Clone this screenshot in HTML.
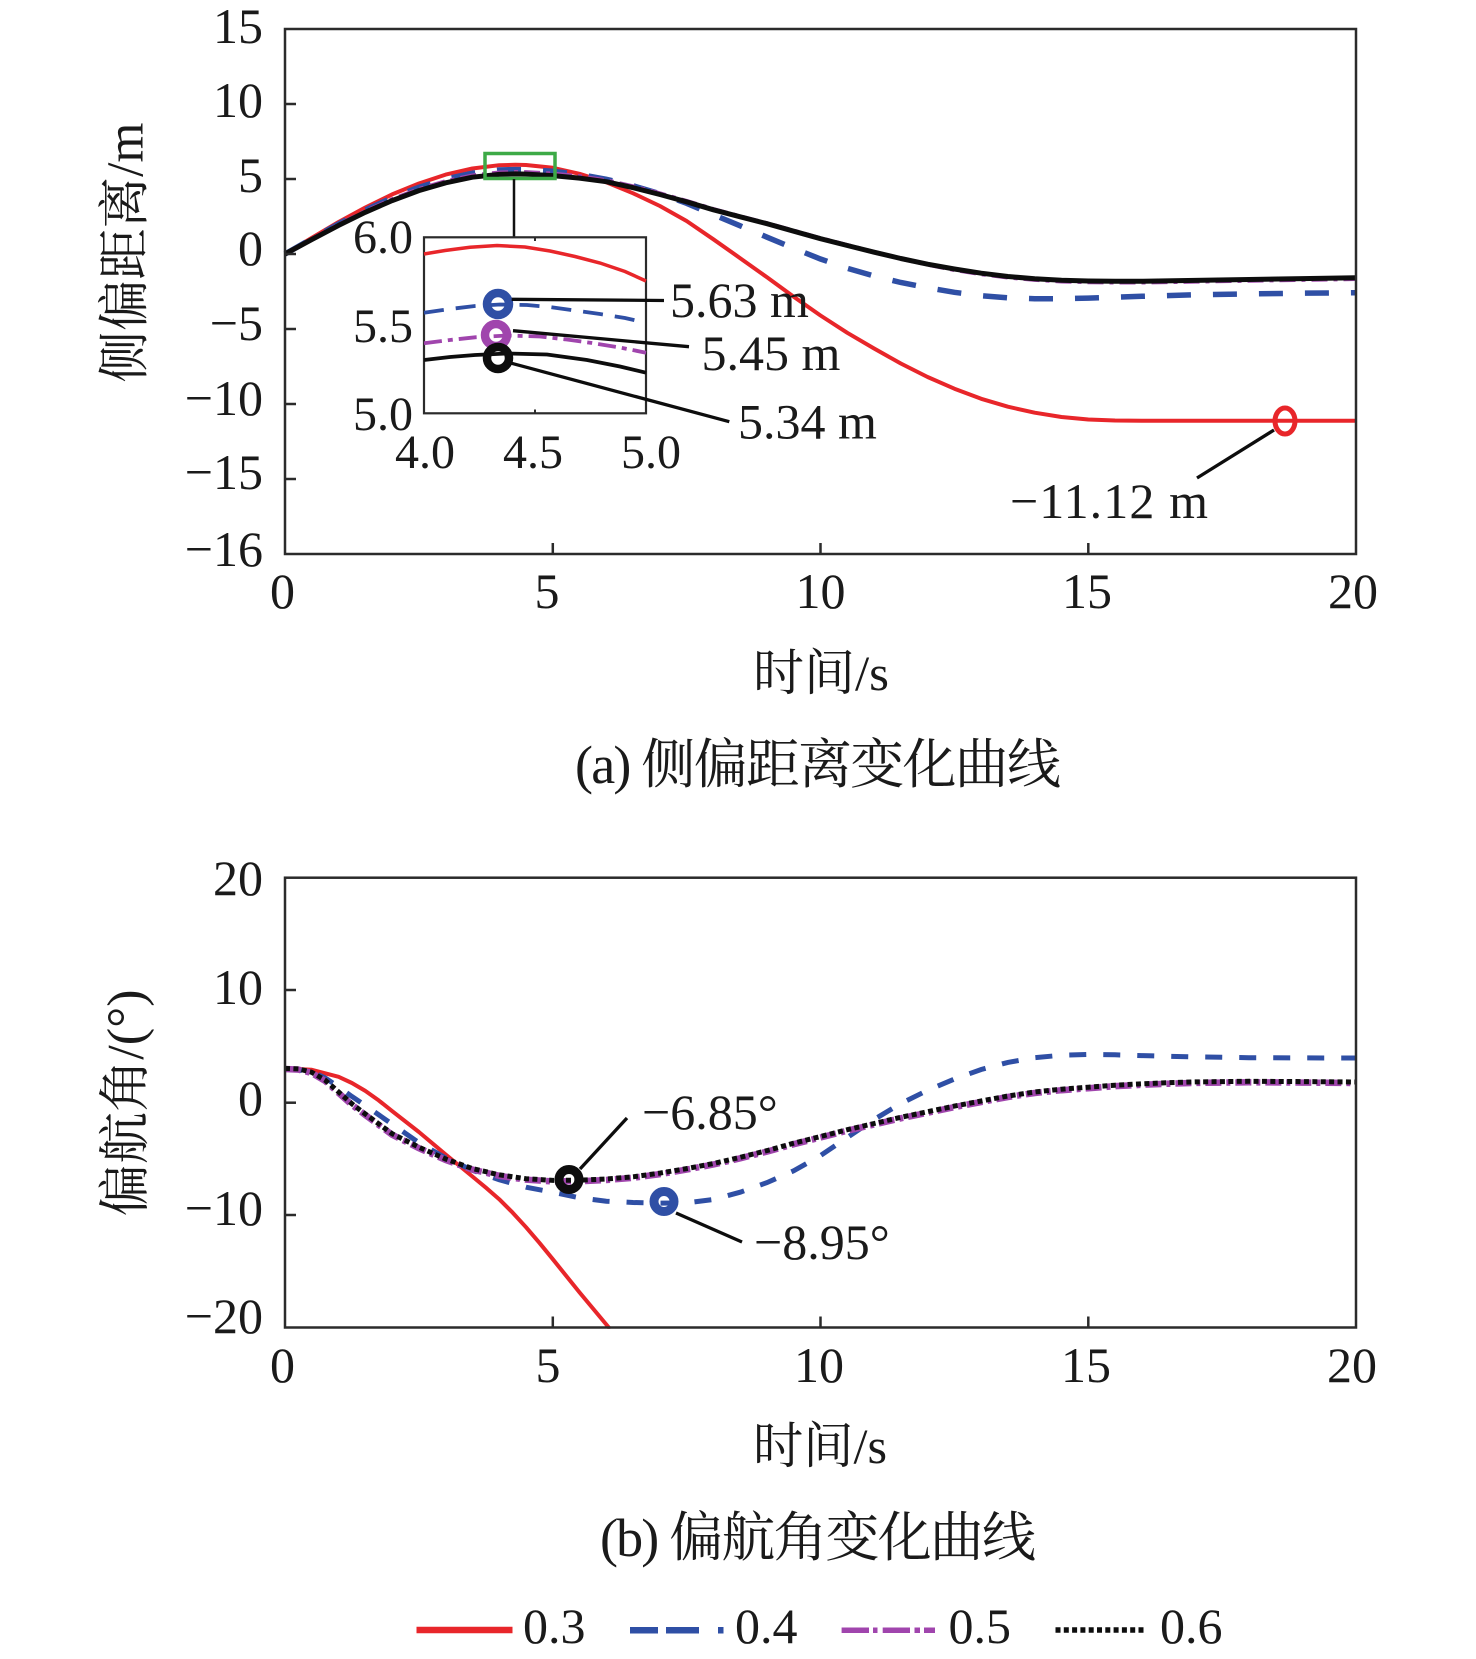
<!DOCTYPE html>
<html>
<head>
<meta charset="utf-8">
<style>
html,body{margin:0;padding:0;background:#fff;}
svg{display:block;}
text{font-family:"Liberation Serif","Noto Serif CJK SC",serif;fill:#1a1a1a;}
</style>
</head>
<body>
<svg width="1476" height="1659" viewBox="0 0 1476 1659" xmlns="http://www.w3.org/2000/svg">
<rect x="0" y="0" width="1476" height="1659" fill="#fff"/>

<!-- ================= TOP CHART ================= -->
<polyline fill="none" stroke="#e8262a" stroke-width="4" stroke-linejoin="round" points="285,254 311.8,237.8 338.6,222 365.3,207.5 392.1,194.4 418.9,183.5 445.7,174.6 472.4,168.5 499.2,165.2 515.3,164.8 526,165 552.8,167.8 579.5,173.8 606.3,182.3 633.1,193.3 659.9,206 686.6,221 713.4,239.3 740.2,258.2 767,277.3 793.7,296.8 820.5,315.5 847.3,332.8 874.1,348.5 900.8,363.5 927.6,377 954.4,388.7 981.2,398.8 1007.9,406.7 1034.7,412.7 1061.5,417 1088.3,419.5 1115,420.5 1141.8,420.8 1356,420.8"/>
<polyline fill="none" stroke="#2f4fa5" stroke-width="5.5" stroke-dasharray="24 22" points="285,254 311.8,238.7 338.6,223.9 365.3,210.1 392.1,197.8 418.9,187.3 445.7,179 472.4,173.2 499.2,170 515.3,169.6 526,169.7 552.8,171.2 579.5,174.5 606.3,179.3 633.1,185.8 659.9,193.7 686.6,203.3 713.4,214.7 740.2,225.8 767,237.2 793.7,248.3 820.5,259 847.3,268.3 874.1,276 900.8,282.5 927.6,287.8 954.4,292.3 981.2,295.7 1007.9,297.8 1034.7,298.7 1061.5,298.7 1088.3,298.1 1115,297.2 1141.8,296.3 1195.4,294.8 1248.9,293.9 1302.5,293.2 1356,292.7"/>
<polyline fill="none" stroke="#a045ad" stroke-width="4.5" stroke-dasharray="16 6 4 6" points="285,254 311.8,239.1 338.6,224.8 365.3,211.4 392.1,199.5 418.9,189.3 445.7,181.4 472.4,175.7 499.2,172.7 515.3,172.3 526,172.4 552.8,173.8 579.5,176.5 606.3,180.5 633.1,186.5 659.9,193.6 686.6,201.2 713.4,209.3 740.2,216.5 767,223.4 793.7,230.9 820.5,238.4 847.3,245.3 874.1,252.2 900.8,258.5 927.6,264.4 954.4,269.8 981.2,274 1007.9,277.3 1034.7,279.6 1061.5,281.2 1088.3,282 1115,282.3 1141.8,282.3 1195.4,281.4 1248.9,280.5 1302.5,279.6 1356,278.8"/>
<polyline fill="none" stroke="#0d0d0d" stroke-width="5" stroke-linejoin="round" points="285,254 311.8,239.5 338.6,225.4 365.3,212.3 392.1,200.6 418.9,190.6 445.7,182.8 472.4,177.2 499.2,174.4 515.3,173.9 526,174.1 552.8,175.6 579.5,178.1 606.3,181.7 633.1,187.7 659.9,194.5 686.6,201.8 713.4,209.8 740.2,216.8 767,223.7 793.7,231.2 820.5,238.7 847.3,245.5 874.1,252.2 900.8,258.5 927.6,264.2 954.4,269 981.2,273.2 1007.9,276.5 1034.7,278.8 1061.5,280.3 1088.3,281 1115,281.3 1141.8,281.3 1195.4,280.4 1248.9,279.5 1302.5,278.6 1356,277.7"/>

<rect x="285" y="29" width="1071" height="525" fill="none" stroke="#2b2b2b" stroke-width="2.5"/>
<g stroke="#2b2b2b" stroke-width="2.5">
<line x1="285" y1="104" x2="296" y2="104"/>
<line x1="285" y1="179" x2="296" y2="179"/>
<line x1="285" y1="254" x2="296" y2="254"/>
<line x1="285" y1="329" x2="296" y2="329"/>
<line x1="285" y1="404" x2="296" y2="404"/>
<line x1="285" y1="479" x2="296" y2="479"/>
<line x1="552.8" y1="554" x2="552.8" y2="543"/>
<line x1="820.5" y1="554" x2="820.5" y2="543"/>
<line x1="1088.3" y1="554" x2="1088.3" y2="543"/>
</g>
<g font-size="50" text-anchor="end">
<text x="263" y="43">15</text>
<text x="263" y="117">10</text>
<text x="263" y="192">5</text>
<text x="263" y="265">0</text>
<text x="263" y="340">−5</text>
<text x="263" y="415">−10</text>
<text x="263" y="489">−15</text>
<text x="263" y="566">−16</text>
</g>
<g font-size="50" text-anchor="middle">
<text x="282.5" y="608">0</text>
<text x="547" y="608">5</text>
<text x="820.5" y="608">10</text>
<text x="1087" y="608">15</text>
<text x="1353" y="608">20</text>
</g>
<text transform="translate(126,252.6) rotate(-90)" text-anchor="middle" dominant-baseline="central" font-size="52" textLength="260" lengthAdjust="spacingAndGlyphs">侧偏距离/m</text>
<text x="753" y="690" font-size="50" textLength="136" lengthAdjust="spacingAndGlyphs">时间/s</text>
<text x="575" y="783" font-size="54" textLength="486" lengthAdjust="spacing">(a) 侧偏距离变化曲线</text>

<rect x="485" y="153.5" width="70" height="25" fill="none" stroke="#3daa47" stroke-width="3.5"/>
<line x1="514" y1="179" x2="514" y2="237" stroke="#111" stroke-width="2.5"/>

<rect x="424" y="237.3" width="222" height="176" fill="#fff" stroke="#2b2b2b" stroke-width="2.2"/>
<g stroke="#2b2b2b" stroke-width="2">
<line x1="535" y1="237.3" x2="535" y2="241"/>
<line x1="535" y1="413.3" x2="535" y2="409.5"/>
</g>
<polyline fill="none" stroke="#e8262a" stroke-width="3.5" points="424,254 445,250.5 470,247.3 497,245.5 525,247 550,251 575,256.5 600,263 625,271.5 646,281"/>
<polyline fill="none" stroke="#2f4fa5" stroke-width="3.8" stroke-dasharray="20 12" points="424,312.7 450,309 475,306 500,304.5 527,305 550,307 575,310.5 600,314 625,318 646,322.7"/>
<polyline fill="none" stroke="#a045ad" stroke-width="3.8" stroke-dasharray="18 6 5 6" points="424,343.3 450,340 475,337.3 507,335.5 540,336.5 565,339.3 590,342.7 620,347.5 646,352.7"/>
<polyline fill="none" stroke="#0d0d0d" stroke-width="3.8" points="424,360 450,357 475,355 507,353.5 547,354.5 587,360 620,366.5 646,372.7"/>
<g font-size="48" text-anchor="end">
<text x="413" y="253">6.0</text>
<text x="413" y="342">5.5</text>
<text x="413" y="430">5.0</text>
</g>
<g font-size="48" text-anchor="middle">
<text x="425" y="468">4.0</text>
<text x="533" y="468">4.5</text>
<text x="651" y="468">5.0</text>
</g>
<circle cx="498" cy="304" r="11" fill="none" stroke="#2f4fa5" stroke-width="8.5"/>
<circle cx="496" cy="335" r="11" fill="none" stroke="#a045ad" stroke-width="8.5"/>
<circle cx="498" cy="358" r="11" fill="none" stroke="#0d0d0d" stroke-width="8.5"/>
<g stroke="#0d0d0d" stroke-width="3.3">
<line x1="511.7" y1="299.3" x2="664" y2="300.5"/>
<line x1="513" y1="330.7" x2="689" y2="346.7"/>
<line x1="511.7" y1="363.3" x2="729.3" y2="421.7"/>
<line x1="1274" y1="430" x2="1197" y2="478"/>
</g>
<ellipse cx="1285" cy="421" rx="10" ry="13" fill="none" stroke="#e8262a" stroke-width="5"/>
<g font-size="50">
<text x="670" y="317">5.63 m</text>
<text x="701.5" y="370">5.45 m</text>
<text x="738" y="438.5">5.34 m</text>
<text x="1010" y="518" textLength="198" lengthAdjust="spacing">−11.12 m</text>
</g>

<!-- ================= BOTTOM CHART ================= -->
<polyline fill="none" stroke="#e8262a" stroke-width="4" stroke-linejoin="round" points="285,1068.4 311.8,1069.8 338.6,1076.8 351.9,1083 365.3,1090.9 378.7,1100.4 392.1,1111.1 418.9,1132 445.7,1154.5 472.4,1176.5 485.8,1187.6 499.2,1199.2 512.6,1212.6 526,1227.2 539.4,1242.8 552.8,1259.2 579.5,1292.4 606.3,1324.5 610,1329"/>
<polyline fill="none" stroke="#2f4fa5" stroke-width="5" stroke-dasharray="17 17" points="285,1068.4 311.8,1071.7 325.2,1077.9 338.6,1086.9 351.9,1096.5 365.3,1105.5 392.1,1124.1 418.9,1142.7 445.7,1157.9 472.4,1170.3 499.2,1179.8 526,1187.2 552.8,1192.2 579.5,1197.8 606.3,1201.2 633.1,1202.5 659.9,1203.1 686.6,1202.9 713.4,1199.5 740.2,1192.2 767,1182.6 793.7,1170.8 820.5,1155.6 847.3,1137.5 874.1,1119.5 900.8,1103.5 927.6,1090.3 954.4,1079.1 981.2,1069.5 1007.9,1062.4 1034.7,1057.7 1061.5,1055.2 1088.3,1054.5 1115,1054.8 1141.8,1055.6 1195.4,1056.9 1248.9,1057.7 1302.5,1057.9 1356,1058"/>
<polyline fill="none" stroke="#a045ad" stroke-width="6.5" stroke-dasharray="16 5 4 5" points="285,1069 298.4,1069.6 311.8,1073 325.2,1081 338.6,1093 351.9,1104.8 365.3,1115 392.1,1134.7 418.9,1148.2 445.7,1160 472.4,1169.6 499.2,1175.8 526,1179.7 552.8,1181.4 579.5,1181.2 606.3,1180 633.1,1177.8 659.9,1174.1 686.6,1169.6 713.4,1164.5 740.2,1158.3 767,1151.6 793.7,1144.2 820.5,1137.5 847.3,1130.7 874.1,1124.5 900.8,1118.3 927.6,1112.7 954.4,1107.1 981.2,1102 1007.9,1097 1034.7,1093 1061.5,1090.2 1088.3,1088.2 1115,1086.2 1141.8,1084.8 1168.6,1083.7 1195.4,1082.9 1248.9,1082.3 1302.5,1082.6 1356,1083"/>
<polyline fill="none" stroke="#0d0d0d" stroke-width="5" stroke-dasharray="5 3.4" points="285,1068.4 298.4,1068.9 311.8,1072.3 325.2,1080.2 338.6,1092 351.9,1103.8 365.3,1114 392.1,1133.7 418.9,1147.2 445.7,1159 472.4,1168.6 499.2,1174.8 526,1178.7 552.8,1180.4 579.5,1180.2 606.3,1179 633.1,1176.8 659.9,1173.1 686.6,1168.6 713.4,1163.5 740.2,1157.3 767,1150.6 793.7,1143.2 820.5,1136.5 847.3,1129.7 874.1,1123.5 900.8,1117.3 927.6,1111.7 954.4,1106.1 981.2,1101 1007.9,1096 1034.7,1092 1061.5,1089.2 1088.3,1087.2 1115,1085.2 1141.8,1083.8 1168.6,1082.7 1195.4,1081.9 1248.9,1081.3 1302.5,1081.6 1356,1082"/>

<rect x="286" y="1328.8" width="400" height="10" fill="#fff"/>
<rect x="285" y="877.7" width="1071" height="449.8" fill="none" stroke="#2b2b2b" stroke-width="2.5"/>
<g stroke="#2b2b2b" stroke-width="2.5">
<line x1="285" y1="990" x2="296" y2="990"/>
<line x1="285" y1="1102.7" x2="296" y2="1102.7"/>
<line x1="285" y1="1215" x2="296" y2="1215"/>
<line x1="552.8" y1="1327.5" x2="552.8" y2="1316.5"/>
<line x1="820.5" y1="1327.5" x2="820.5" y2="1316.5"/>
<line x1="1088.3" y1="1327.5" x2="1088.3" y2="1316.5"/>
</g>
<g font-size="50" text-anchor="end">
<text x="263" y="895">20</text>
<text x="263" y="1004">10</text>
<text x="263" y="1115">0</text>
<text x="263" y="1225">−10</text>
<text x="263" y="1333">−20</text>
</g>
<g font-size="50" text-anchor="middle">
<text x="282.5" y="1382">0</text>
<text x="548" y="1382">5</text>
<text x="819" y="1382">10</text>
<text x="1086" y="1382">15</text>
<text x="1352" y="1382">20</text>
</g>
<text transform="translate(126.5,1103) rotate(-90)" text-anchor="middle" dominant-baseline="central" font-size="52" textLength="227" lengthAdjust="spacingAndGlyphs">偏航角/(°)</text>
<text x="753" y="1463" font-size="50" textLength="134" lengthAdjust="spacingAndGlyphs">时间/s</text>
<text x="600" y="1556" font-size="54" textLength="436" lengthAdjust="spacing">(b) 偏航角变化曲线</text>

<circle cx="569" cy="1179.5" r="10" fill="none" stroke="#0d0d0d" stroke-width="9"/>
<circle cx="664" cy="1201.5" r="10" fill="none" stroke="#2f4fa5" stroke-width="9"/>
<g stroke="#0d0d0d" stroke-width="3.3">
<line x1="580" y1="1169" x2="627" y2="1118"/>
<line x1="676" y1="1213" x2="742" y2="1242"/>
</g>
<g font-size="50">
<text x="642" y="1129">−6.85°</text>
<text x="754" y="1259">−8.95°</text>
</g>

<!-- ================= LEGEND ================= -->
<line x1="416.5" y1="1630" x2="512.5" y2="1630" stroke="#e8262a" stroke-width="6.5"/>
<text x="523" y="1643" font-size="50">0.3</text>
<g fill="#2f4fa5">
<rect x="630" y="1627" width="28" height="6.5"/>
<rect x="666" y="1627" width="33" height="6.5"/>
<rect x="718" y="1627" width="5.5" height="6.5"/>
</g>
<text x="735" y="1643" font-size="50">0.4</text>
<g fill="#a045ad">
<rect x="841.6" y="1627.5" width="27.4" height="5.5"/>
<rect x="873" y="1627.5" width="4.5" height="5.5"/>
<rect x="882.7" y="1627.5" width="27.3" height="5.5"/>
<rect x="914.5" y="1627.5" width="5.5" height="5.5"/>
<rect x="924" y="1627.5" width="11" height="5.5"/>
</g>
<text x="948.5" y="1643" font-size="50">0.5</text>
<line x1="1055.5" y1="1630" x2="1146" y2="1630" stroke="#0d0d0d" stroke-width="5.5" stroke-dasharray="5 3.3"/>
<text x="1160" y="1643" font-size="50">0.6</text>
</svg>
</body>
</html>
